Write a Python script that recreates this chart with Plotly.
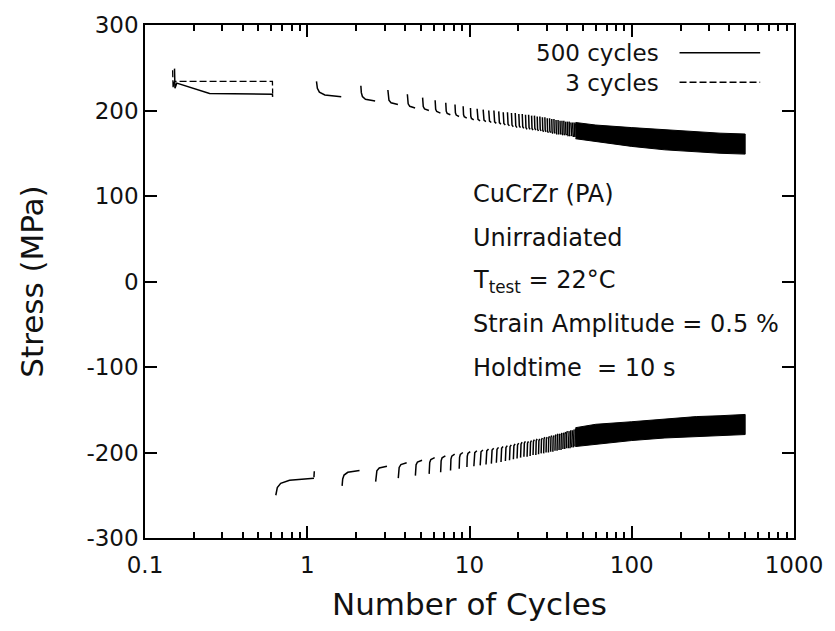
import plotly.graph_objects as go

# ---------------- data ----------------
# first tension hold (cycle 0) for both tests
hold0_500_x = [0.152, 0.153, 0.157, 0.25, 0.61, 0.612]
hold0_500_y = [249, 226, 232, 220, 219, 216]
hold0_3_x = [0.148, 0.149, 0.152, 0.61, 0.612]
hold0_3_y = [247, 226, 234, 234, 220]

# tension holds, cycles 1..45 (500-cycle test)
upper_cycles = list(range(1, 46))
upper_peak = [234, 229, 224, 219, 215, 212, 209, 207, 205, 203,
              202, 201, 200, 200, 199, 198, 198, 197, 197, 196,
              196, 195, 195, 194, 194, 193, 193, 192, 192, 191,
              191, 190, 190, 189, 189, 188, 188, 188, 187, 187,
              187, 186, 186, 186, 185]
upper_relaxed = [216, 211, 207, 203, 200, 197, 195, 193, 191, 189,
                 188, 187, 186, 185, 184, 183, 182, 181, 180, 180,
                 179, 178, 178, 177, 177, 176, 176, 175, 175, 174,
                 174, 173, 173, 172, 172, 172, 171, 171, 171, 170,
                 170, 170, 169, 169, 169]

# compression holds, cycles 0..45
lower_cycles = list(range(0, 46))
lower_peak = [-250, -239, -234, -230, -227, -225, -223, -221, -219, -217,
              -216, -215, -214, -213, -212, -211, -210, -209, -208, -207,
              -206, -205, -205, -204, -203, -203, -202, -201, -201, -200,
              -200, -199, -199, -198, -198, -197, -197, -196, -196, -195,
              -195, -195, -194, -194, -193, -193]
lower_relaxed = [-230, -221, -216, -212, -209, -206, -204, -202, -200, -199,
                 -198, -197, -196, -195, -194, -193, -192, -191, -190, -189,
                 -188, -187, -187, -186, -185, -184, -184, -183, -182, -182,
                 -181, -180, -180, -179, -178, -178, -177, -177, -176, -175,
                 -175, -174, -174, -173, -172, -171]

# end of the first compression hold (start of re-loading)
hold0_lower_end_x = [1.10, 1.105]
hold0_lower_end_y = [-229, -222]

# dense region (cycles 45..500): envelope of the overlapping holds
band_cycles = [45, 60, 100, 160, 250, 350, 500]
band_upper_top = [186, 183, 180, 177.5, 175, 173.5, 172.5]
band_upper_bottom = [167, 164, 158, 154, 151.5, 150, 149]
band_lower_top = [-171, -167, -164, -161, -158, -157, -155.5]
band_lower_bottom = [-193, -190, -186, -183, -181, -180, -179]

# shape of one relaxation hold (fraction of hold time, fraction of drop)
relax_time = [0, 0.03, 0.1, 0.3, 1.0]
relax_frac = [0, 0.45, 0.7, 0.88, 1.0]
tension_start, tension_len = 0.14, 0.48
compress_start, compress_len = 0.64, 0.46

x_ticks = [0.1, 1, 10, 100, 1000]
x_ticktext = ["0.1", "1", "10", "100", "1000"]
y_ticks = [-300, -200, -100, 0, 100, 200, 300]
y_ticktext = ["-300", "-200", "-100", "0", "100", "200", "300"]

annotation_lines = ["CuCrZr (PA)", "Unirradiated", "T<sub>test</sub> = 22°C",
                    "Strain Amplitude = 0.5 %", "Holdtime  = 10 s"]
legend_labels = ["500 cycles", "3 cycles"]

# ---------------- build hold strokes ----------------
def strokes(cycles, peaks, relaxed, start, length):
    xs, ys = [], []
    for k, p, r in zip(cycles, peaks, relaxed):
        for t, f in zip(relax_time, relax_frac):
            xs.append(k + start + t * length)
            ys.append(p + (r - p) * f)
        xs.append(None)
        ys.append(None)
    return xs, ys

ux, uy = strokes(upper_cycles, upper_peak, upper_relaxed, tension_start, tension_len)
lx, ly = strokes(lower_cycles, lower_peak, lower_relaxed, compress_start, compress_len)
lx += hold0_lower_end_x
ly += hold0_lower_end_y

FONT = "DejaVu Sans"
BLACK = "#000000"
TXT = "#111111"

fig = go.Figure()
fig.add_trace(go.Scatter(x=hold0_3_x, y=hold0_3_y, mode="lines",
                         line=dict(color=BLACK, width=1.3, dash="7px,3px")))
fig.add_trace(go.Scatter(x=hold0_500_x, y=hold0_500_y, mode="lines",
                         line=dict(color=BLACK, width=1.5)))
fig.add_trace(go.Scatter(x=ux, y=uy, mode="lines", connectgaps=False,
                         line=dict(color=BLACK, width=1.5)))
fig.add_trace(go.Scatter(x=lx, y=ly, mode="lines", connectgaps=False,
                         line=dict(color=BLACK, width=1.5)))
fig.add_trace(go.Scatter(x=band_cycles + band_cycles[::-1],
                         y=band_upper_top + band_upper_bottom[::-1],
                         mode="lines", fill="toself", fillcolor=BLACK,
                         line=dict(color=BLACK, width=1)))
fig.add_trace(go.Scatter(x=band_cycles + band_cycles[::-1],
                         y=band_lower_top + band_lower_bottom[::-1],
                         mode="lines", fill="toself", fillcolor=BLACK,
                         line=dict(color=BLACK, width=1)))

minor_vals = [d * m for d in [0.1, 1, 10, 100] for m in range(2, 10)]

fig.update_xaxes(type="log", range=[-1, 3], tickvals=x_ticks, ticktext=x_ticktext,
                 ticks="inside", ticklen=12, tickwidth=1.5, tickcolor=BLACK,
                 showline=True, linecolor=BLACK, linewidth=1.5, mirror="ticks",
                 showgrid=False, zeroline=False, ticklabelstandoff=6,
                 minor=dict(tickvals=minor_vals, ticks="inside", ticklen=6,
                            tickwidth=1.5, tickcolor=BLACK, showgrid=False),
                 tickfont=dict(family=FONT, size=23, color=TXT),
                 title=dict(text="Number of Cycles", standoff=16,
                            font=dict(family=FONT, size=31, color=TXT)))
fig.update_yaxes(range=[-300, 300], tickvals=y_ticks, ticktext=y_ticktext,
                 ticks="inside", ticklen=12, tickwidth=1.5, tickcolor=BLACK,
                 showline=True, linecolor=BLACK, linewidth=1.5, mirror="ticks",
                 showgrid=False, zeroline=False,
                 tickfont=dict(family=FONT, size=23, color=TXT),
                 title=dict(text="Stress (MPa)", standoff=34,
                            font=dict(family=FONT, size=31, color=TXT)))

L, R, T, B = 145, 797, 19, 538
W, H = 835, 631
def px(x):
    return (x - L) / (R - L)
def py(y):
    return (B - y) / (B - T)

annotations = []
for i, txt in enumerate(annotation_lines):
    annotations.append(dict(text=txt, xref="paper", yref="paper", x=px(473),
                            y=py(190 + 44 * i), xanchor="left", yanchor="middle",
                            showarrow=False,
                            font=dict(family=FONT, size=24, color=TXT)))
annotations.append(dict(text="<br>".join(legend_labels), xref="paper", yref="paper",
                        x=px(663), y=py(62), xanchor="right", yanchor="middle",
                        align="right", showarrow=False,
                        font=dict(family=FONT, size=23, color=TXT)))
shapes = []
for i in range(len(legend_labels)):
    yy = 47 + 29.9 * i
    shapes.append(dict(type="line", xref="paper", yref="paper",
                       x0=px(682), x1=px(763), y0=py(yy), y1=py(yy),
                       line=dict(color=BLACK, width=1.5,
                                 dash="solid" if i == 0 else "7px,3px")))

fig.update_layout(width=W, height=H, showlegend=False,
                  margin=dict(l=L, r=W - R, t=T, b=H - B),
                  paper_bgcolor="white", plot_bgcolor="white",
                  annotations=annotations, shapes=shapes)

fig.write_html("out.html")
